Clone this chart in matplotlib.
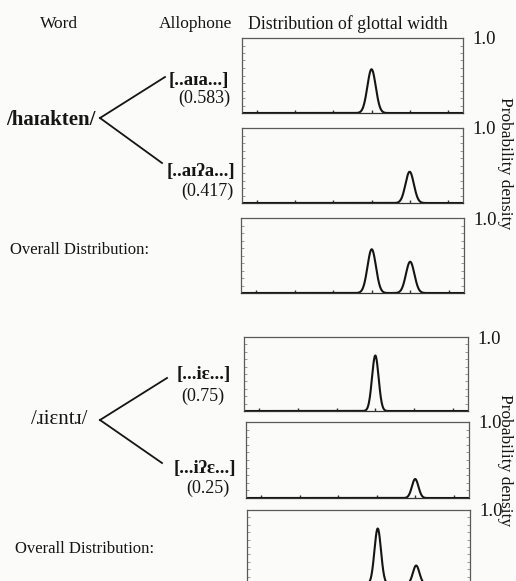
import numpy as np
import matplotlib
matplotlib.use("Agg")
import matplotlib.pyplot as plt
from matplotlib.lines import Line2D

plt.rcParams['font.family'] = ['Liberation Serif', 'DejaVu Serif']

# two words, each realised as two allophones with their probabilities
words = ['/haɪakten/', '/ɹiɛntɹ/']
word_bold = [True, False]
allophones = [['[..aɪa...]', '[..aɪʔa...]'], ['[...iɛ...]', '[...iʔɛ...]']]
probs = [[0.583, 0.417], [0.75, 0.25]]
peak_means = [[4.0, 5.0], [4.0, 5.0]]
peak_sd = [0.11, 0.085]
x_ticks = [1, 2, 3, 4, 5, 6]

W, H = 516, 581
fig = plt.figure(figsize=(W / 100, H / 100), dpi=100)
fig.patch.set_facecolor('#fbfbfa')
ink = '#151515'
frame = '#5a5a5a'


def fx(x):
    return x / W


def fy(y):
    return 1 - y / H


def add_panel(x0, y0, x1, y1):
    ax = fig.add_axes([fx(x0), fy(y1), fx(x1) - fx(x0), fy(y0) - fy(y1)])
    ax.set_facecolor('none')
    ax.set_xlim(0.6, 6.4)
    ax.set_ylim(0, 1.0)
    ax.set_xticks(x_ticks)
    ax.set_xticklabels([])
    ax.yaxis.tick_right()
    ax.set_yticks([1.0])
    ax.set_yticklabels(['1.0'])
    ax.set_yticks(np.arange(0.1, 1.0, 0.1), minor=True)
    ax.tick_params(axis='x', direction='in', length=2.5, width=1, color='#333333')
    ax.tick_params(axis='y', which='major', length=0, pad=6.5, labelsize=13.5,
                   labelcolor=ink)
    ax.tick_params(axis='y', which='minor', direction='in', length=2,
                   width=0.6, color='#888888', left=True, right=True)
    for s in ax.spines.values():
        s.set_color(frame)
        s.set_linewidth(0.9)
    ax.spines['bottom'].set_color('#333333')
    return ax


xs = np.linspace(0.6, 6.4, 800)


def curve(means, weights, sd):
    y = np.zeros_like(xs)
    for m, w in zip(means, weights):
        y += w * np.exp(-0.5 * ((xs - m) / sd) ** 2)
    return y


# panel boxes in pixels: (left, top, right, bottom)
boxes = [
    [(242, 38, 463, 113), (242, 128, 463, 203), (241, 218, 464, 293)],
    [(244, 337, 468, 411), (246, 422, 469, 498), (247, 510, 470, 584)],
]

for g in range(2):
    for k in range(2):
        ax = add_panel(*boxes[g][k])
        ax.plot(xs, curve([peak_means[g][k]], [probs[g][k]], peak_sd[g]),
                color=ink, lw=1.5)
    ax = add_panel(*boxes[g][2])
    ax.plot(xs, curve(peak_means[g], probs[g], peak_sd[g]), color=ink, lw=1.5)

# column headers
fig.text(fx(59), fy(24), 'Word', ha='center', va='center', fontsize=12.5, color=ink)
fig.text(fx(196), fy(24), 'Allophone', ha='center', va='center', fontsize=12.5, color=ink)
fig.text(fx(248), fy(24), 'Distribution of glottal width', ha='left', va='center',
         fontsize=12.8, color=ink)

# word -> allophone trees
vertex = [(100, 118), (100, 420)]
branch_ends = [[(165, 77), (162, 163)], [(167, 378), (162, 463)]]
word_pos = [(51, 120), (59, 420)]
allo_pos = [[(199, 80), (201, 171)], [(204, 374), (205, 469)]]
prob_pos = [[(204, 98), (207, 191)], [(203, 396), (208, 488)]]
overall_y = [250, 549]
overall_x = [10, 15]

for g in range(2):
    vx, vy = vertex[g]
    for k in range(2):
        ex, ey = branch_ends[g][k]
        fig.add_artist(Line2D([fx(vx), fx(ex)], [fy(vy), fy(ey)],
                              color=ink, lw=1.3))
        ax_, ay_ = allo_pos[g][k]
        fig.text(fx(ax_), fy(ay_), allophones[g][k], ha='center', va='center',
                 fontsize=13.5, fontweight='bold', color=ink)
        px_, py_ = prob_pos[g][k]
        fig.text(fx(px_), fy(py_), '(%g)' % probs[g][k], ha='center', va='center',
                 fontsize=13, color=ink)
    wx, wy = word_pos[g]
    fig.text(fx(wx), fy(wy), words[g], ha='center', va='center', fontsize=15,
             fontweight='bold' if word_bold[g] else 'normal', color=ink)
    fig.text(fx(overall_x[g]), fy(overall_y[g]), 'Overall Distribution:',
             ha='left', va='center', fontsize=12, color=ink)

# shared y-axis label for each group
for yc in [163, 460]:
    fig.text(fx(505), fy(yc), 'Probability density', rotation=270,
             ha='center', va='center', fontsize=12.5, color=ink)

fig.savefig('out.png', dpi=100, facecolor=fig.get_facecolor())
